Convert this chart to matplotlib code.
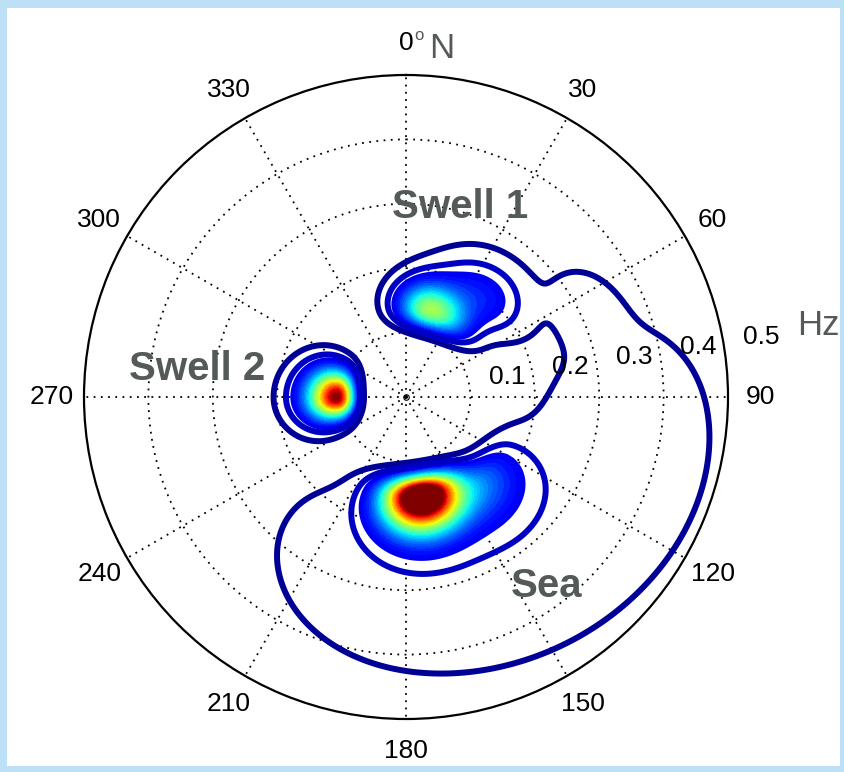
import numpy as np
import matplotlib
matplotlib.use("Agg")
import matplotlib.pyplot as plt
from matplotlib.patches import Rectangle

plt.rcParams['font.family'] = ['Liberation Sans', 'DejaVu Sans']

# ---- wave systems of the directional spectrum -------------------------------
# peak frequency (Hz), peak direction (deg clockwise from N), peak density,
# log-frequency spreads below/above the peak, directional spreads (deg)
# on the counter-clockwise / clockwise side, shape exponent of the
# directional spreading, and drift of ln(peak frequency) per degree
systems     = ['Swell 1', 'Swell 1 tail', 'Swell 2', 'Sea', 'Sea secondary',
               'Sea tail', 'Sea tail end']
peak_freq   = [0.141, 0.200, 0.108, 0.157, 0.180, 0.280, 0.305]
peak_dir    = [16.0, 38.0, 270.0, 171.0, 138.0, 155.0, 63.0]
peak_amp    = [0.55, 0.12, 1.00, 1.35, 0.18, 0.044, 0.031]
fspread_lo  = [0.150, 0.150, 0.180, 0.150, 0.150, 0.376, 0.100]
fspread_hi  = [0.170, 0.160, 0.230, 0.190, 0.200, 0.376, 0.100]
dspread_ccw = [13.0, 14.0, 11.0, 14.0, 14.0, 74.0, 8.0]
dspread_cw  = [16.0, 12.5, 13.5, 14.0, 13.0, 62.3, 8.0]
dir_power   = [2, 2, 2, 2, 2, 4, 2]
freq_drift  = [0.0, 0.0, 0.0, 0.0, 0.0, -0.002, 0.0]

# contour levels (normalised density)
line_levels = [0.02, 0.06]
fill_levels = np.linspace(0.1, 1.0, 37)

ring_freqs = [0.1, 0.2, 0.3, 0.4, 0.5]
angle_ticks = list(range(0, 360, 30))

# ---- spectrum on a polar grid -------------------------------------------------
theta_deg = np.linspace(330.0, 690.0, 721)
freq = np.linspace(0.004, 0.5, 320)
TH, FR = np.meshgrid(theta_deg, freq)
spec = np.zeros_like(TH)
for fp, dp, a, slo, shi, dccw, dcw, pw, drift in zip(
        peak_freq, peak_dir, peak_amp, fspread_lo, fspread_hi,
        dspread_ccw, dspread_cw, dir_power, freq_drift):
    dd = (TH - dp + 180.0) % 360.0 - 180.0
    lf = np.log(FR / (fp * np.exp(drift * dd)))
    sf = np.where(lf < 0, slo, shi)
    sd = np.where(dd < 0, dccw, dcw)
    spec += a * np.exp(-0.5 * (lf / sf) ** 2) * np.exp(-0.5 * np.abs(dd / sd) ** pw)

# ---- figure ---------------------------------------------------------------------
W, H = 844, 772
fig = plt.figure(figsize=(W / 100, H / 100), dpi=100)
fig.patch.set_facecolor('#bde0f6')
fig.add_artist(Rectangle((7 / W, 6 / H), (W - 11) / W, (H - 14) / H,
                         transform=fig.transFigure, facecolor='white',
                         edgecolor='none', zorder=-10))

cx, cy, R = 406, 397, 322
ax = fig.add_axes([(cx - R) / W, 1 - (cy + R) / H, 2 * R / W, 2 * R / H],
                  projection='polar')
ax.set_facecolor('white')
ax.set_theta_zero_location('N')
ax.set_theta_direction(-1)
ax.set_ylim(0, 0.5)
ax.set_xticks(np.deg2rad(angle_ticks))
ax.set_xticklabels([])
ax.set_yticks(ring_freqs[:-1])
ax.set_yticklabels([])
ax.grid(True, color='black', linestyle=(0, (1, 3)), linewidth=1.3)
ax.spines['polar'].set_linewidth(1.6)

cmap = plt.get_cmap('jet').copy()
cmap.set_over(cmap(1.0))
norm = matplotlib.colors.Normalize(0.0, 1.0)
THr = np.deg2rad(TH)

ax.contourf(THr, FR, spec, levels=fill_levels, cmap=cmap, norm=norm,
            extend='max', zorder=2)
ax.contour(THr, FR, spec, levels=[fill_levels[0]], colors=[cmap(norm(fill_levels[0]))],
           linewidths=2.5, zorder=3)
ax.contour(THr, FR, spec, levels=line_levels,
           colors=[cmap(norm(v)) for v in line_levels],
           linewidths=4.3, zorder=3)

ax.plot([0], [0], 'o', ms=4, mfc='none', mec='black', mew=0.8, zorder=4)

# angle labels
for a in angle_ticks:
    ax.text(np.deg2rad(a), 0.55, str(a), ha='center', va='center',
            fontsize=19, color='black')
# frequency ring labels
for v in ring_freqs:
    ax.text(np.deg2rad(81), v + 0.03, f'{v:g}', ha='left', va='baseline',
            fontsize=19, color='black')

grey = '#535a57'
def ftext(x, y, s, **kw):
    fig.text(x / W, 1 - y / H, s, **kw)

ftext(414, 36, 'o', fontsize=12, color=grey, ha='left', va='center')
ftext(429, 58, 'N', fontsize=25, color=grey, ha='left', va='baseline')
ftext(797, 335, 'Hz', fontsize=25, color=grey, ha='left', va='baseline')
ftext(460, 207, 'Swell 1', fontsize=29, fontweight='bold', color=grey, ha='center', va='center')
ftext(197, 369, 'Swell 2', fontsize=29, fontweight='bold', color=grey, ha='center', va='center')
ftext(547, 586, 'Sea', fontsize=29, fontweight='bold', color=grey, ha='center', va='center')

fig.savefig('out.png', dpi=100, facecolor=fig.get_facecolor())
